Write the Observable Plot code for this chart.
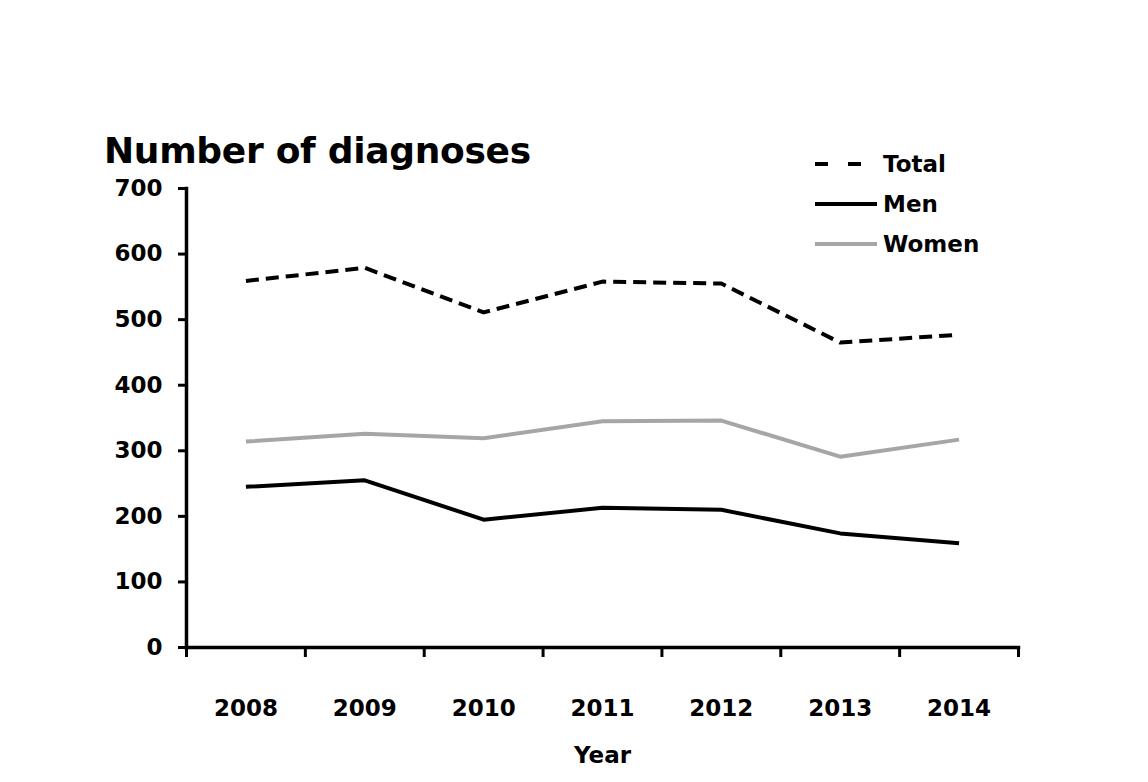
<!DOCTYPE html>
<html>
<head>
<meta charset="utf-8">
<script src="https://cdn.jsdelivr.net/npm/d3@7"></script>
<script src="https://cdn.jsdelivr.net/npm/@observablehq/plot@0.6"></script>
<style>
  html, body { margin: 0; padding: 0; background: #fff; }
  #wrap { position: relative; width: 1148px; height: 782px; font-family: "DejaVu Sans", sans-serif; }
  #title { position: absolute; left: 104px; top: 130px; font-size: 36px; font-weight: bold; color: #000; white-space: nowrap; letter-spacing: -0.3px; }
  .leg { position: absolute; left: 815px; height: 24px; display: flex; align-items: center; font-size: 23px; font-weight: bold; color: #000; white-space: nowrap; }
  .leg svg { margin-right: 6px; }
  #chart { position: absolute; left: 0; top: 0; }
</style>
</head>
<body>
<div id="wrap">
  <div id="chart"></div>
  <div id="title"></div>
  <div id="legend"></div>
</div>
<script>
const title = "Number of diagnoses";
const xLabel = "Year";
const years = [2008, 2009, 2010, 2011, 2012, 2013, 2014];
const total = [559, 579, 511, 558, 555, 465, 477];
const men   = [245, 255, 195, 213, 210, 174, 159];
const women = [314, 326, 319, 345, 346, 291, 317];
const yTicks = [0, 100, 200, 300, 400, 500, 600, 700];
const seriesNames = ["Total", "Men", "Women"];
const seriesColors = ["#000000", "#000000", "#a6a6a6"];
const seriesDash = ["13,7", null, null];

const seriesValues = [total, men, women];
const rows = [];
seriesNames.forEach((s, i) => years.forEach((y, j) => rows.push({series: s, year: y, value: seriesValues[i][j]})));
const boundaries = years.map(y => y - 0.5).concat([years[years.length - 1] + 0.5]);

const lines = seriesNames.map((s, i) => Plot.line(rows.filter(r => r.series === s), {
  x: "year", y: "value",
  stroke: seriesColors[i], strokeWidth: 4,
  strokeDasharray: seriesDash[i] || undefined,
  strokeLinejoin: "round", strokeLinecap: "butt"
}));

const chart = Plot.plot({
  width: 1148,
  height: 782,
  marginLeft: 186,
  marginRight: 130,
  marginTop: 188,
  marginBottom: 135,
  style: {fontFamily: "DejaVu Sans, sans-serif", fontSize: "23px", fontWeight: "bold", color: "#000", background: "#fff"},
  x: {domain: [boundaries[0], boundaries[boundaries.length - 1]]},
  y: {domain: [yTicks[0], yTicks[yTicks.length - 1]]},
  marks: [
    Plot.axisY({ticks: yTicks, tickSize: 8, tickPadding: 16, strokeWidth: 3, label: null, tickFormat: d => String(d)}),
    Plot.axisX({ticks: boundaries, tickSize: 10, strokeWidth: 3, tickFormat: () => "", label: null}),
    Plot.axisX({ticks: years, tickSize: 0, tickPadding: 52, tickFormat: d => String(d), label: null}),
    Plot.frame({anchor: "left", strokeWidth: 3.5}),
    Plot.frame({anchor: "bottom", strokeWidth: 3.5}),
    Plot.text([xLabel], {frameAnchor: "bottom", dy: 115, text: d => d, fontSize: 23, fontWeight: "bold"}),
    ...lines
  ]
});
document.getElementById("chart").appendChild(chart);
document.getElementById("title").textContent = title;

const legTops = [152, 192, 232];
const legLen = [47, 62, 62];
const legend = document.getElementById("legend");
seriesNames.forEach((s, i) => {
  const d = document.createElement("div");
  d.className = "leg";
  d.style.top = legTops[i] + "px";
  const w = 62;
  const dash = seriesDash[i] ? `stroke-dasharray="13,20"` : "";
  d.innerHTML = `<svg width="${w}" height="10"><line x1="0" y1="5" x2="${legLen[i]}" y2="5" stroke="${seriesColors[i]}" stroke-width="4" ${dash}/></svg><span>${s}</span>`;
  legend.appendChild(d);
});
</script>
</body>
</html>
